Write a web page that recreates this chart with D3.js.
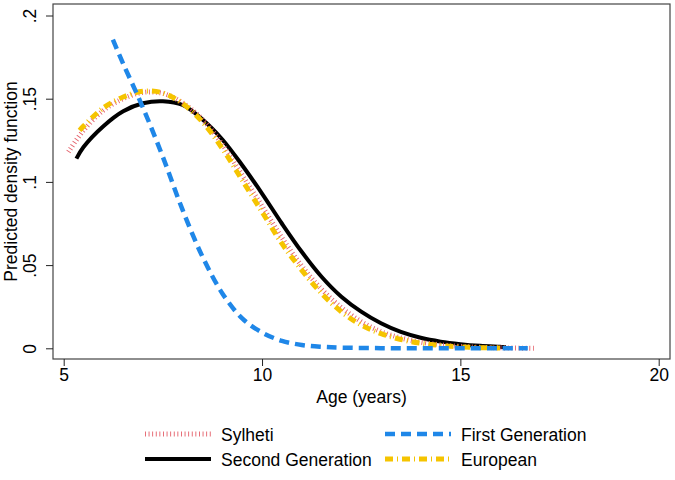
<!DOCTYPE html>
<html>
<head>
<meta charset="utf-8">
<script src="https://cdn.jsdelivr.net/npm/d3@7"></script>
<style>
  html, body { margin: 0; padding: 0; background: #fff; }
  svg { display: block; font-family: "Liberation Sans", Arial, Helvetica, sans-serif; }
</style>
</head>
<body>
<svg id="chart" width="675" height="480"></svg>
<script>
// ---- Data ----
const sylAge = [5.12,5.5,6,6.5,7,7.5,8,8.5,9,9.5,10,10.5,11,11.5,12,12.5,13,13.5,14,14.5,15,15.5,16,16.5,16.9];
const sylVal = [0.118,0.131,0.143,0.150,0.1538,0.1532,0.1475,0.1375,0.1225,0.104,0.0855,0.0665,0.0495,0.0355,0.0245,0.016,0.0100,0.0062,0.0037,0.0021,0.0012,0.0006,0.0003,0.0001,0.0000];

const secAge = [5.32,5.5,6,6.5,7,7.5,8,8.5,9,9.5,10,10.5,11,11.5,12,12.5,13,13.5,14,14.5,15,15.5,16,16.15];
const secVal = [0.1140,0.121,0.1335,0.1425,0.1473,0.1485,0.1462,0.1375,0.1255,0.110,0.093,0.075,0.058,0.043,0.031,0.022,0.015,0.0098,0.0063,0.0040,0.0025,0.0015,0.0009,0.0007];

const firAge = [6.24,6.5,7,7.5,8,8.5,9,9.5,10,10.5,11,11.5,12,13,14,15,16,16.7];
const firVal = [0.1855,0.171,0.1445,0.115,0.083,0.055,0.033,0.018,0.0095,0.0045,0.002,0.0009,0.0004,0.0001,0,0,0,0];

const eurAge = [5.4,5.5,6,6.5,7,7.5,8,8.5,9,9.5,10,10.5,11,11.5,12,12.5,13,13.5,14,14.5,15,15.5,16];
const eurVal = [0.131,0.1335,0.1445,0.151,0.1545,0.1535,0.147,0.136,0.120,0.101,0.082,0.063,0.047,0.033,0.022,0.014,0.0088,0.0053,0.0031,0.0017,0.0009,0.0004,0.0002];

const xTicks = [5, 10, 15, 20];
const yTicks = [0, 0.05, 0.1, 0.15, 0.2];
const yTickLabels = ["0", ".05", ".1", ".15", ".2"];
const xTitle = "Age (years)";
const yTitle = "Predicted density function";

// ---- Layout ----
const FONT = '"Liberation Sans", Arial, Helvetica, sans-serif';
const FS = 17.5;
const svg = d3.select("#chart");
const frame = {left: 53, right: 670, top: 4, bottom: 359};
const x = d3.scaleLinear().domain([5, 20]).range([63.7, 658.7]);
const y = d3.scaleLinear().domain([0, 0.2]).range([348.3, 15.5]);

const series = [
  {name: "Sylheti", age: sylAge, val: sylVal, color: "#e4606a", width: 5, dash: "0.9,2.7"},
  {name: "Second Generation", age: secAge, val: secVal, color: "#000000", width: 4, dash: null},
  {name: "First Generation", age: firAge, val: firVal, color: "#1f87e8", width: 4.5, dash: "10,6"},
  {name: "European", age: eurAge, val: eurVal, color: "#f5c400", width: 5, dash: "8,4,1,4"}
];

// frame
svg.append("rect")
  .attr("x", frame.left).attr("y", frame.top)
  .attr("width", frame.right - frame.left).attr("height", frame.bottom - frame.top)
  .attr("fill", "none").attr("stroke", "#444").attr("stroke-width", 1.2);

// axes
const xAxis = d3.axisBottom(x).tickValues(xTicks).tickSize(7).tickPadding(3).tickFormat(d3.format("d"));
const gx = svg.append("g").attr("transform", `translate(0,${frame.bottom})`).call(xAxis);
gx.select(".domain").remove();
gx.selectAll("line").attr("stroke", "#222");
gx.selectAll("text").attr("font-size", FS).attr("fill", "#000").attr("font-family", FONT);

const yAxis = d3.axisLeft(y).tickValues(yTicks).tickSize(7).tickFormat((d, i) => yTickLabels[i]);
const gy = svg.append("g").attr("transform", `translate(${frame.left},0)`).call(yAxis);
gy.select(".domain").remove();
gy.selectAll("line").attr("stroke", "#222");
gy.selectAll("text")
  .attr("font-size", FS).attr("fill", "#000").attr("font-family", FONT)
  .attr("x", null).attr("dy", null)
  .attr("text-anchor", "middle")
  .attr("transform", `translate(${36 - frame.left},0) rotate(-90)`);

// titles
svg.append("text").attr("x", (frame.left + frame.right) / 2).attr("y", 403)
  .attr("text-anchor", "middle").attr("font-size", FS).text(xTitle);
svg.append("text").attr("transform", `translate(16.5,${(frame.top + frame.bottom) / 2}) rotate(-90)`)
  .attr("text-anchor", "middle").attr("font-size", FS).text(yTitle);

// lines
const line = d3.line().x(d => x(d[0])).y(d => y(d[1])).curve(d3.curveCatmullRom.alpha(0.5));
const plotG = svg.append("g");
[1, 0, 3, 2].forEach(i => {
  const s = series[i];
  const pts = s.age.map((a, j) => [a, s.val[j]]);
  const p = plotG.append("path").datum(pts).attr("d", line)
    .attr("fill", "none").attr("stroke", s.color).attr("stroke-width", s.width);
  if (s.dash) p.attr("stroke-dasharray", s.dash);
});

// legend
const legendPos = [
  {i: 0, lx: 145, ly: 434},
  {i: 2, lx: 385, ly: 434},
  {i: 1, lx: 145, ly: 459},
  {i: 3, lx: 385, ly: 459}
];
const leg = svg.append("g");
legendPos.forEach(p => {
  const s = series[p.i];
  const l = leg.append("line").attr("x1", p.lx).attr("x2", p.lx + 66)
    .attr("y1", p.ly).attr("y2", p.ly)
    .attr("stroke", s.color).attr("stroke-width", s.width);
  if (s.dash) l.attr("stroke-dasharray", s.dash);
  leg.append("text").attr("x", p.lx + 76).attr("y", p.ly + 6.5)
    .attr("font-size", FS).text(s.name);
});
</script>
</body>
</html>
